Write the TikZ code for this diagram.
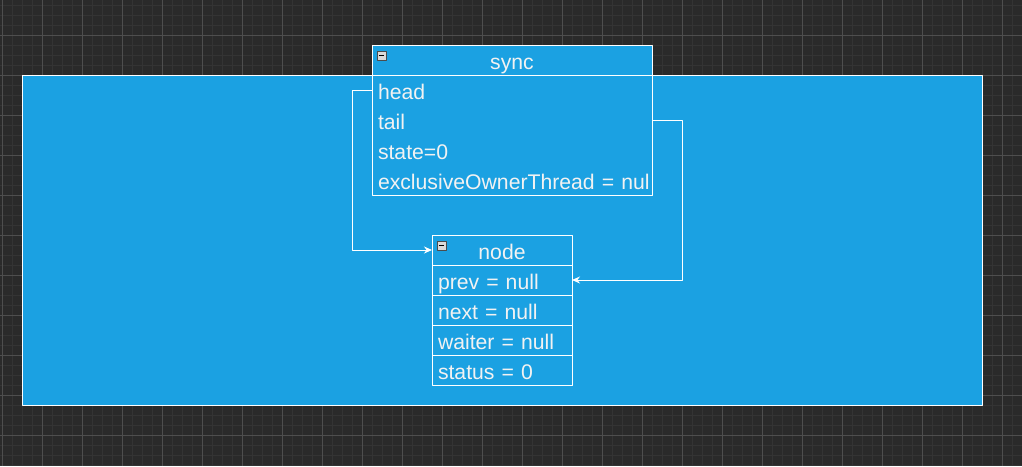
\documentclass[tikz,border=0pt]{standalone}
\usepackage{fontspec}
\setmainfont{Liberation Sans}
\usetikzlibrary{arrows.meta}
\definecolor{canvas}{HTML}{2A2A2A}
\definecolor{gridminor}{HTML}{343434}
\definecolor{gridmajor}{HTML}{4E4E4E}
\definecolor{umlblue}{HTML}{1BA1E2}
\definecolor{umltext}{HTML}{F2F2F2}
\tikzset{
  cell/.style={draw=white, fill=umlblue, line width=1pt, text=umltext,
    font=\fontsize{21.2}{24}\selectfont, inner xsep=6pt, inner ysep=0pt, outer sep=0pt,
    minimum height=30pt, text height=20pt, text depth=1pt, anchor=north west},
  head/.style={cell, minimum width=#1},
  field/.style={cell, text width=#1, align=left},
  toggle/.style={draw=gray!60!black, fill=gray!30, line width=0.6pt,
    minimum size=8.5pt, inner sep=0pt, anchor=north west,
    path picture={\draw[black, line width=1.3pt]
      ([xshift=-2.6pt]path picture bounding box.center) --
      ([xshift=2.6pt]path picture bounding box.center);}},
  link/.style={->, draw=white, line width=1pt},
}
\begin{document}
\begin{tikzpicture}[x=1pt,y=-1pt,>={Stealth[length=8pt,width=7pt]},line join=round]
  \def\W{1022}
  \def\H{466}
  \useasboundingbox (0,0) rectangle (\W,\H);
  \fill[canvas] (0,0) rectangle (\W,\H);
  % grid
  \foreach \x in {2,12,...,1022} \draw[gridminor] (\x,0) -- (\x,\H);
  \foreach \y in {5,15,...,465} \draw[gridminor] (0,\y) -- (\W,\y);
  \foreach \x in {2,42,...,1002} \draw[gridmajor] (\x,0) -- (\x,\H);
  \foreach \y in {35,75,...,435} \draw[gridmajor] (0,\y) -- (\W,\y);
  % container
  \node[cell, minimum width=960, minimum height=330] (frame) at (22,75) {};
  % sync
  \node[head=280] (sync) at (372,45) {sync};
  \node[cell, minimum width=280, minimum height=120] (syncbody) at (sync.south west) {};
  \begin{scope}
    \clip ([xshift=1]syncbody.north west) rectangle ([xshift=-4]syncbody.south east);
    \node[field=268, draw=none, fill=none] (synchead) at (syncbody.north west) {head};
    \node[field=268, draw=none, fill=none] (synctail) at (synchead.south west) {tail};
    \node[field=268, draw=none, fill=none] (syncstate) at (synctail.south west) {state=0};
    \node[field=268, draw=none, fill=none] (syncowner) at (syncstate.south west) {exclusiveOwnerThread~=~null};
  \end{scope}
  \node[toggle] (synctoggle) at ([shift={(5,6)}]sync.north west) {};
  % node
  \node[head=140] (wnode) at (432,235) {node};
  \node[field=128] (wnodeprev) at (wnode.south west) {prev~=~null};
  \node[field=128] (wnodenext) at (wnodeprev.south west) {next~=~null};
  \node[field=128] (wnodewaiter) at (wnodenext.south west) {waiter~=~null};
  \node[field=128] (wnodestatus) at (wnodewaiter.south west) {status~=~0};
  \node[toggle] (wnodetoggle) at ([shift={(5,6)}]wnode.north west) {};
  % links
  \draw[link] (synchead.west) -- ++(-20,0) |- (wnode.west);
  \draw[link] (synctail.east) -- ++(30,0) |- (wnodeprev.east);
\end{tikzpicture}
\end{document}
